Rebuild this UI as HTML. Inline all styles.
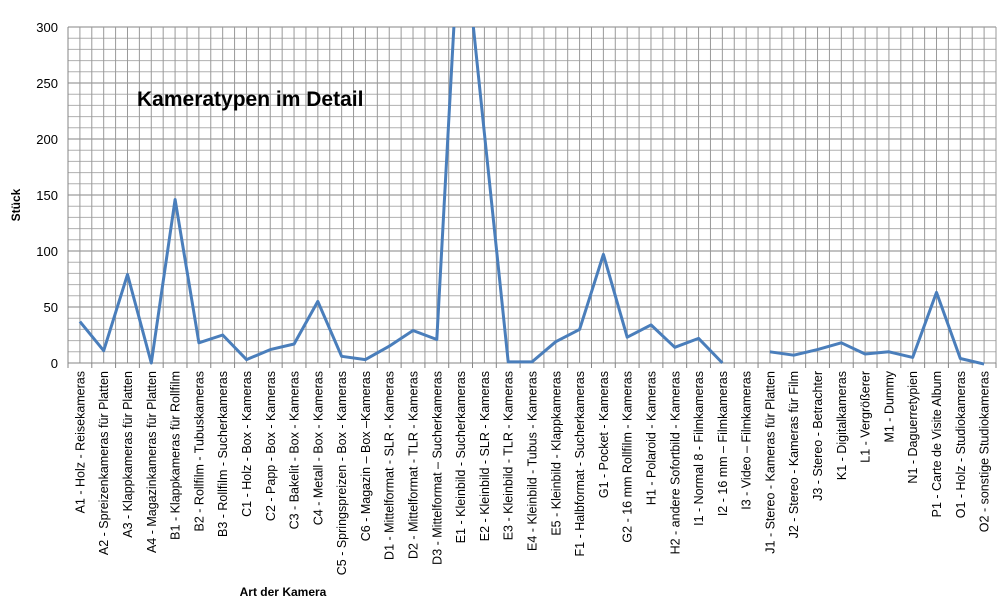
<!DOCTYPE html>
<html><head><meta charset="utf-8"><style>
html,body{margin:0;padding:0;background:#fff;}
svg{display:block;font-family:"Liberation Sans",Arial,sans-serif;}
</style></head><body>
<svg id="chart" width="1005" height="614" viewBox="0 0 1005 614">
<g id="grid"></g>
<g id="yticks"></g>
<g id="xlabels"></g>
<g id="series"></g>
<text x="137" y="106" font-size="21" font-weight="bold" fill="#000">Kameratypen im Detail</text>
<text transform="translate(20,205) rotate(-90)" text-anchor="middle" font-size="12" font-weight="bold">Stück</text>
<text x="283" y="596" text-anchor="middle" font-size="12" font-weight="bold">Art der Kamera</text>
</svg>
<script>
const categories = ["A1 - Holz - Reisekameras","A2 - Spreizenkameras für Platten","A3 - Klappkameras für Platten","A4 - Magazinkameras für Platten","B1 - Klappkameras für Rollfilm","B2 - Rollfilm - Tubuskameras","B3 - Rollfilm - Sucherkameras","C1 - Holz - Box - Kameras","C2 - Papp - Box - Kameras","C3 - Bakelit - Box - Kameras","C4 - Metall - Box - Kameras","C5 - Springspreizen - Box - Kameras","C6 - Magazin – Box –Kameras","D1 - Mittelformat - SLR - Kameras","D2 - Mittelformat - TLR - Kameras","D3 - Mittelformat – Sucherkameras","E1 - Kleinbild - Sucherkameras","E2 - Kleinbild - SLR - Kameras","E3 - Kleinbild - TLR - Kameras","E4 - Kleinbild - Tubus - Kameras","E5 - Kleinbild - Klappkameras","F1 - Halbformat - Sucherkameras","G1 - Pocket - Kameras","G2 - 16 mm Rollfilm - Kameras","H1 - Polaroid - Kameras","H2 - andere Sofortbild - Kameras","I1 - Normal 8 - Filmkameras","I2 - 16 mm – Filmkameras","I3 - Video – Filmkameras","J1 - Stereo - Kameras für Platten","J2 - Stereo - Kameras für Film","J3 - Stereo - Betrachter","K1 - Digitalkameras","L1 - Vergrößerer","M1 - Dummy","N1 - Daguerretypien","P1 - Carte de Visite Album","O1 - Holz - Studiokameras","O2 - sonstige Studiokameras"];
const values = [37,11,79,0,146,18,25,3,12,17,55,6,3,15,29,21,410,205,1,1,19,30,97,23,34,14,22,0,null,10,7,12,18,8,10,5,63,4,-1];
const yTicks = [0,50,100,150,200,250,300];

const NS="http://www.w3.org/2000/svg";
const L=68,R=996,T=27,B=363,yMax=300;
const n=categories.length, cw=(R-L)/n;
function xPos(i){return L+cw*(i+0.5);}
function yPos(v){return B-(v/yMax)*(B-T);}
function mk(tag,attrs,parent){const e=document.createElementNS(NS,tag);for(const k in attrs)e.setAttribute(k,attrs[k]);parent.appendChild(e);return e;}

const grid=document.getElementById('grid');
for(let v=0;v<=yMax;v+=10){
  const l=mk('line',{x1:L,x2:R,y1:yPos(v),y2:yPos(v),stroke:v%50===0?'#868686':'#b0b0b0','stroke-width':1},grid);
  
  
}
for(let k=0;k<=2*n;k++){
  const x=L+k*cw/2;
  const l=mk('line',{x1:x,x2:x,y1:T,y2:B,stroke:'#999','stroke-width':1},grid);
  
  
}
mk('line',{x1:L,x2:L,y1:T,y2:B,stroke:'#868686'},grid);
mk('line',{x1:L,x2:R,y1:B,y2:B,stroke:'#868686'},grid);
for(let i=0;i<=n;i++){
  const x=L+i*cw;
  mk('line',{x1:x,x2:x,y1:B,y2:B+5,stroke:'#868686'},grid);
}
const yt=document.getElementById('yticks');
yTicks.forEach(v=>{
  const t=mk('text',{x:58,y:yPos(v)+5,'text-anchor':'end','font-size':13,fill:'#000'},yt);
  t.textContent=v;
  
  
});
const xl=document.getElementById('xlabels');
categories.forEach((c,i)=>{
  const x=xPos(i)+4.5;
  const t=mk('text',{transform:`translate(${x},371) rotate(-90)`,'text-anchor':'end','font-size':12.5,fill:'#000'},xl);
  t.textContent=c;
  
  
});
const sg=document.getElementById('series');
const cp=mk('clipPath',{id:'clip'},sg);
mk('rect',{x:L,y:T,width:R-L,height:B-T+3},cp);
let d='',pen=false;
values.forEach((v,i)=>{
  if(v===null){pen=false;return;}
  d+=(pen?'L':'M')+xPos(i).toFixed(1)+' '+yPos(v).toFixed(1)+' ';
  pen=true;
});
const p=mk('path',{d:d,fill:'none',stroke:'#4a7ebb','stroke-width':3,'stroke-linejoin':'round','clip-path':'url(#clip)'},sg);


</script>
</body></html>
